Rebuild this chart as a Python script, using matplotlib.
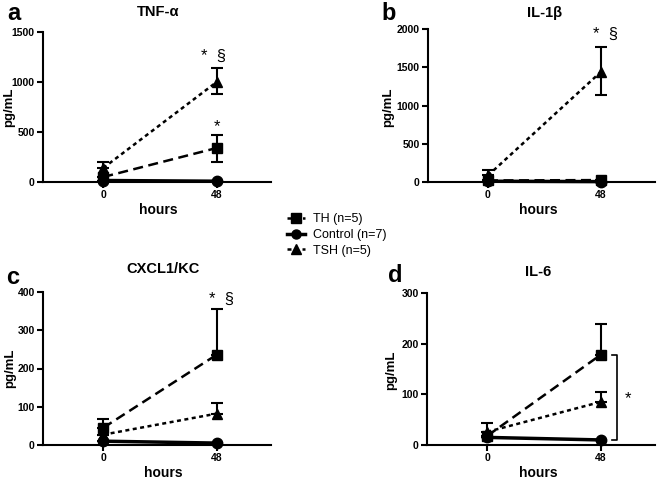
import numpy as np
import matplotlib
matplotlib.use('Agg')
import matplotlib.pyplot as plt
from matplotlib.lines import Line2D

plt.rcParams['font.family'] = ['Liberation Sans', 'DejaVu Sans']

hours = [0, 48]

# TNF-a
tnf_th = [50, 340]
tnf_th_lo = [0, 140]
tnf_th_hi = [0, 130]
tnf_ctrl = [15, 8]
tnf_tsh = [140, 1000]
tnf_tsh_lo = [0, 115]
tnf_tsh_hi = [60, 145]

# IL-1b
il1_th = [20, 25]
il1_ctrl = [10, 5]
il1_tsh = [85, 1440]
il1_tsh_lo = [0, 300]
il1_tsh_hi = [75, 320]

# CXCL1/KC
kc_th = [45, 236]
kc_th_hi = [23, 120]
kc_ctrl = [10, 5]
kc_tsh = [27, 82]
kc_tsh_hi = [0, 28]

# IL-6
il6_th = [18, 178]
il6_th_hi = [0, 60]
il6_ctrl = [15, 10]
il6_tsh = [26, 85]
il6_tsh_hi = [17, 20]

W, H = 660, 480
fig = plt.figure(figsize=(6.6, 4.8), dpi=100)


def make_ax(left, right, top, bottom):
    return fig.add_axes([left / W, 1 - bottom / H, (right - left) / W, (bottom - top) / H])


def style(ax, ymax, step):
    ax.set_xlim(-25.5, 71)
    ax.set_ylim(0, ymax)
    ax.set_xticks(hours)
    ax.set_yticks(np.arange(0, ymax + 1, step))
    for s in ['top', 'right']:
        ax.spines[s].set_visible(False)
    for s in ['left', 'bottom']:
        ax.spines[s].set_linewidth(1.5)
    ax.tick_params(width=1.5, length=4, labelsize=7.5, pad=2)
    for lab in ax.get_xticklabels() + ax.get_yticklabels():
        lab.set_fontweight('bold')


def series(ax, y, lo, hi, marker, ls, lw):
    ax.errorbar(hours, y, yerr=[lo, hi], color='black', marker=marker, markersize=7.5,
                linestyle=ls, linewidth=lw, elinewidth=1.5, capsize=4, capthick=1.5,
                clip_on=False, zorder=3)


th_ls = (0, (4, 2.2))
tsh_ls = (0, (1.6, 1.4))
zeros = [0, 0]

# a
ax = make_ax(43, 271, 32, 182)
style(ax, 1500, 500)
series(ax, tnf_tsh, tnf_tsh_lo, tnf_tsh_hi, '^', tsh_ls, 1.8)
series(ax, tnf_th, tnf_th_lo, tnf_th_hi, 's', th_ls, 1.8)
series(ax, tnf_ctrl, zeros, zeros, 'o', '-', 2.5)
ax.text(46.5, 1180, '*  §', ha='center', va='bottom', fontsize=12)
ax.text(48, 480, '*', ha='center', va='bottom', fontsize=12)

# b
ax = make_ax(428, 655, 29, 182)
style(ax, 2000, 500)
series(ax, il1_tsh, il1_tsh_lo, il1_tsh_hi, '^', tsh_ls, 1.8)
series(ax, il1_th, zeros, zeros, 's', th_ls, 1.8)
series(ax, il1_ctrl, zeros, zeros, 'o', '-', 2.5)
ax.text(50, 1830, '*  §', ha='center', va='bottom', fontsize=12)

# c
ax = make_ax(43, 271, 292, 445)
style(ax, 400, 100)
series(ax, kc_th, zeros, kc_th_hi, 's', th_ls, 1.8)
series(ax, kc_tsh, zeros, kc_tsh_hi, '^', tsh_ls, 1.8)
series(ax, kc_ctrl, zeros, zeros, 'o', '-', 2.5)
ax.text(50, 362, '*  §', ha='center', va='bottom', fontsize=12)

# d
ax = make_ax(427, 655, 293, 445)
style(ax, 300, 100)
series(ax, il6_th, zeros, il6_th_hi, 's', th_ls, 1.8)
series(ax, il6_tsh, zeros, il6_tsh_hi, '^', tsh_ls, 1.8)
series(ax, il6_ctrl, zeros, zeros, 'o', '-', 2.5)
bx, tick = 55, 2
ax.plot([bx - tick, bx, bx, bx - tick], [il6_th[1], il6_th[1], il6_ctrl[1], il6_ctrl[1]],
        color='black', linewidth=1.2, clip_on=False)
ax.text(bx + 4.5, 92, '*', ha='center', va='center', fontsize=12)

# letters, titles, axis labels
for x, y, t in [(14, 13, 'a'), (389, 13, 'b'), (13, 278, 'c'), (395, 276, 'd')]:
    fig.text(x / W, 1 - y / H, t, ha='center', va='center', fontsize=17, fontweight='bold')
for x, y, t in [(158, 12, 'TNF-α'), (545, 13, 'IL-1β'), (163, 269, 'CXCL1/KC'), (538, 272, 'IL-6')]:
    fig.text(x / W, 1 - y / H, t, ha='center', va='center', fontsize=10.5, fontweight='bold')
for x, y in [(9, 107), (388, 107), (10, 368), (391, 370)]:
    fig.text(x / W, 1 - y / H, 'pg/mL', ha='center', va='center', rotation=90,
             fontsize=9.5, fontweight='bold')
for x, y in [(158, 210), (538, 210), (163, 473), (538, 473)]:
    fig.text(x / W, 1 - y / H, 'hours', ha='center', va='center', fontsize=10, fontweight='bold')

# legend
handles = [
    Line2D([], [], color='black', marker='s', markersize=6.5, linestyle=th_ls, linewidth=1.8),
    Line2D([], [], color='black', marker='o', markersize=6.5, linestyle='-', linewidth=2.5),
    Line2D([], [], color='black', marker='^', markersize=6.5, linestyle=tsh_ls, linewidth=1.8),
]
fig.legend(handles, ['TH (n=5)', 'Control (n=7)', 'TSH (n=5)'], loc='center',
           bbox_to_anchor=(337 / W, 1 - 235 / H), frameon=False, fontsize=9,
           handlelength=1.4, handletextpad=0.7, labelspacing=0.3)

fig.savefig('out.png', dpi=100, facecolor='white')
